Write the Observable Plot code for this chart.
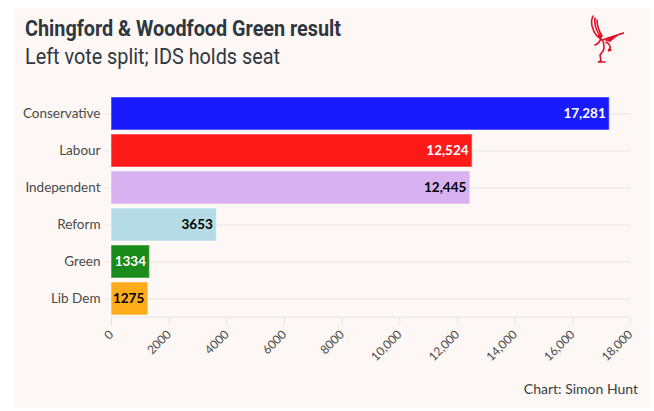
<!DOCTYPE html>
<html>
<head>
<meta charset="utf-8">
<script src="https://cdn.jsdelivr.net/npm/d3@7"></script>
<script src="https://cdn.jsdelivr.net/npm/@observablehq/plot@0.6"></script>
<style>
  html, body { margin: 0; padding: 0; background: #ffffff; }
  #page { position: relative; width: 654px; height: 411px; overflow: hidden; }
  #panel { position: absolute; left: 14px; top: 8px; width: 636px; height: 399px; background: #fdf8f5; }
  #title { position: absolute; left: 25px; top: 16px; font-family: Roboto, sans-serif; font-weight: 700; font-size: 22px; color: #2e3740; transform-origin: left top; transform: scaleX(0.9); white-space: nowrap; }
  #subtitle { position: absolute; left: 25px; top: 44px; font-family: Roboto, sans-serif; font-weight: 400; font-size: 22px; color: #2e3740; transform-origin: left top; transform: scaleX(0.9); white-space: nowrap; }
  #chart { position: absolute; left: 0; top: 80px; }
  #caption { position: absolute; right: 16px; top: 380px; font-family: Lato, sans-serif; font-size: 14px; color: #3a3f45; }
  #logo { position: absolute; left: 586px; top: 14px; }
</style>
</head>
<body>
<div id="page">
  <div id="panel"></div>
  <div id="title">Chingford &amp; Woodfood Green result</div>
  <div id="subtitle">Left vote split; IDS holds seat</div>
  <svg id="logo" width="40" height="52" viewBox="0 0 40 52">
    <g fill="none" stroke="#e0102a" stroke-width="1.6" stroke-linecap="round">
      <path d="M7 2 C4 8 6 16 11 22 L16 26"/>
      <path d="M9 4 C8 10 10 16 14 22"/>
      <path d="M11 6 C11 12 13 17 16 22"/>
      <path d="M16 26 C22 24 30 21 38 19 C32 20 27 23 22 26"/>
      <path d="M15 24 C14 28 12 30 9 31"/>
      <path d="M17 27 C18 31 19 34 17 37 L14 41 L15 47 L12 48 L19 48"/>
      <path d="M20 28 C24 30 26 34 22 37 L25 36"/>
    </g>
    <g fill="#e0102a">
      <circle cx="14" cy="22" r="2.2"/>
      <path d="M18 26 L34 20 L24 28 Z"/>
    </g>
  </svg>
  <div id="chart"></div>
  <div id="caption">Chart: Simon Hunt</div>
</div>
<script>
const parties = ["Conservative", "Labour", "Independent", "Reform", "Green", "Lib Dem"];
const votes = [17281, 12524, 12445, 3653, 1334, 1275];
const barColors = ["#1a1aff", "#ff1a1a", "#d8b1f0", "#b5dbe6", "#1a8b1a", "#ffab1a"];
const labelColors = ["#ffffff", "#ffffff", "#000000", "#000000", "#ffffff", "#000000"];
const xTicks = [0, 2000, 4000, 6000, 8000, 10000, 12000, 14000, 16000, 18000];

const data = parties.map((p, i) => ({party: p, votes: votes[i], color: barColors[i], label: labelColors[i]}));
const fmt = v => v >= 10000 ? d3.format(",")(v) : String(v);

const W = 654, H = 300, mL = 111, mR = 24, mT = 15, mB = 63;

const axisLine = (index, scales, values, dims) => {
  const y = dims.height - dims.marginBottom;
  const line = document.createElementNS("http://www.w3.org/2000/svg", "line");
  line.setAttribute("x1", scales.x(0));
  line.setAttribute("x2", scales.x(18000));
  line.setAttribute("y1", y);
  line.setAttribute("y2", y);
  line.setAttribute("stroke", "#e6e3e0");
  line.setAttribute("stroke-width", 1.2);
  return line;
};

const chart = Plot.plot({
  width: W,
  height: H,
  marginLeft: mL,
  marginRight: mR,
  marginTop: mT,
  marginBottom: mB,
  style: {background: "transparent", fontFamily: "Lato, sans-serif"},
  x: {domain: [0, 18000], ticks: xTicks, label: null},
  y: {domain: parties, paddingInner: 0.11, paddingOuter: 0.03, label: null},
  marks: [
    Plot.gridY({stroke: "#e8e5e2", strokeOpacity: 1, x1: 0, x2: 18000}),
    Plot.axisY({tickSize: 7, stroke: "#eeebe8", fontSize: 13.5, fill: "#4a4a4a", tickPadding: 4, label: null}),
    Plot.axisX({ticks: xTicks, tickFormat: fmt, tickRotate: -45, tickSize: 8, stroke: "#e6e3e0", fontSize: 12, fill: "#4a4a4a", tickPadding: 7, label: null}),
    axisLine,
    Plot.barX(data, {y: "party", x: "votes", fill: d => d.color, stroke: "#ffffff", strokeOpacity: 0.35, strokeWidth: 1.5}),
    Plot.text(data, {y: "party", x: "votes", text: d => fmt(d.votes), textAnchor: "end", dx: -4, fill: d => d.label, stroke: d => d.color, strokeWidth: 3, fontWeight: 700, fontSize: 13.5})
  ]
});
document.getElementById("chart").appendChild(chart);
</script>
</body>
</html>
